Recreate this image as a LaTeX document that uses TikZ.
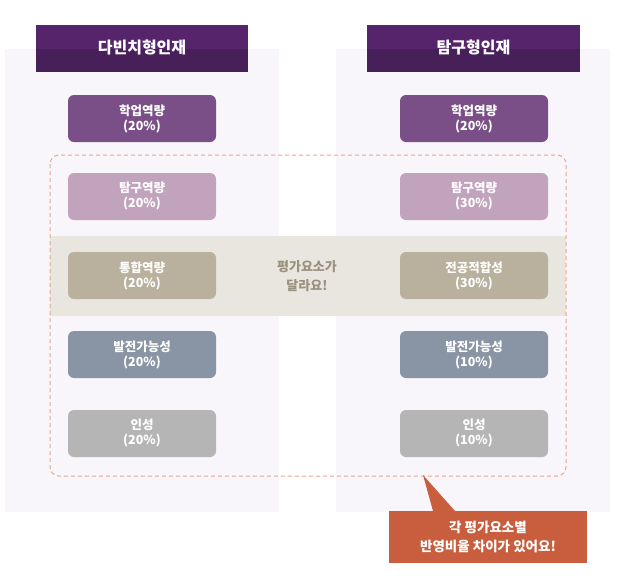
\documentclass[tikz,border=0pt]{standalone}
\usepackage{fontspec}
\setmainfont{Noto Sans CJK KR}
\usetikzlibrary{shapes.geometric}
\definecolor{panel}{HTML}{F8F6FA}
\definecolor{headtop}{HTML}{55246A}
\definecolor{headbot}{HTML}{47205A}
\definecolor{cA}{HTML}{7A4E86}
\definecolor{cB}{HTML}{C2A3BD}
\definecolor{cC}{HTML}{B9B09E}
\definecolor{cD}{HTML}{8994A4}
\definecolor{cE}{HTML}{B5B5B5}
\definecolor{band}{HTML}{E9E6E0}
\definecolor{dashcol}{HTML}{E8A88A}
\definecolor{midtxt}{HTML}{9A9080}
\definecolor{callout}{HTML}{C85E3E}
\tikzset{
  itembox/.style={rounded corners=6pt, minimum width=148pt, minimum height=47pt, inner sep=0pt,
    text=white, font=\bfseries\fontsize{12.5}{16}\selectfont, align=center},
  headbox/.style={minimum width=212pt, minimum height=47pt, inner sep=0pt, text=white,
    font=\bfseries\fontsize{16}{19}\selectfont}
}
\begin{document}
\begin{tikzpicture}[x=1pt,y=-1pt]
\useasboundingbox (0,0) rectangle (619,584);
% panels
\fill[panel] (5,49) rectangle (279,512);
\fill[panel] (336,49) rectangle (610,512);
% band
\fill[band] (50,236) rectangle (566,316);
% dashed frame
\draw[dashcol, line width=1pt, dash pattern=on 4pt off 3pt, rounded corners=9pt] (50,155) rectangle (566,476);
% headers
\fill[headtop] (36,25) rectangle (248,49);
\fill[headbot] (36,49) rectangle (248,72);
\fill[headtop] (367,25) rectangle (580,49);
\fill[headbot] (367,49) rectangle (580,72);
\node[headbox] (hl) at (142,47.5) {다빈치형인재};
\node[headbox] (hr) at (473.5,47.5) {탐구형인재};
% left items
\node[itembox, fill=cA] (l1) at (142,118.5) {학업역량\\[-1pt](20\%)};
\node[itembox, fill=cB] (l2) at (142,196.5) {탐구역량\\[-1pt](20\%)};
\node[itembox, fill=cC] (l3) at (142,275.5) {통합역량\\[-1pt](20\%)};
\node[itembox, fill=cD] (l4) at (142,354.5) {발전가능성\\[-1pt](20\%)};
\node[itembox, fill=cE] (l5) at (142,433.5) {인성\\[-1pt](20\%)};
% right items
\node[itembox, fill=cA] (r1) at (474,118.5) {학업역량\\[-1pt](20\%)};
\node[itembox, fill=cB] (r2) at (474,196.5) {탐구역량\\[-1pt](30\%)};
\node[itembox, fill=cC] (r3) at (474,275.5) {전공적합성\\[-1pt](30\%)};
\node[itembox, fill=cD] (r4) at (474,354.5) {발전가능성\\[-1pt](10\%)};
\node[itembox, fill=cE] (r5) at (474,433.5) {인성\\[-1pt](10\%)};
% middle text
\node[text=midtxt, font=\bfseries\fontsize{13}{19}\selectfont, align=center] (mid) at (307,276) {평가요소가\\달라요!};
% callout
\fill[callout] (423,475) -- (455,511) -- (433,511) -- cycle;
\node[fill=callout, minimum width=198pt, minimum height=52pt, inner sep=0pt, text=white,
  font=\bfseries\fontsize{13.5}{19}\selectfont, align=center] (co) at (488,537) {각 평가요소별\\반영비율 차이가 있어요!};
\end{tikzpicture}
\end{document}
